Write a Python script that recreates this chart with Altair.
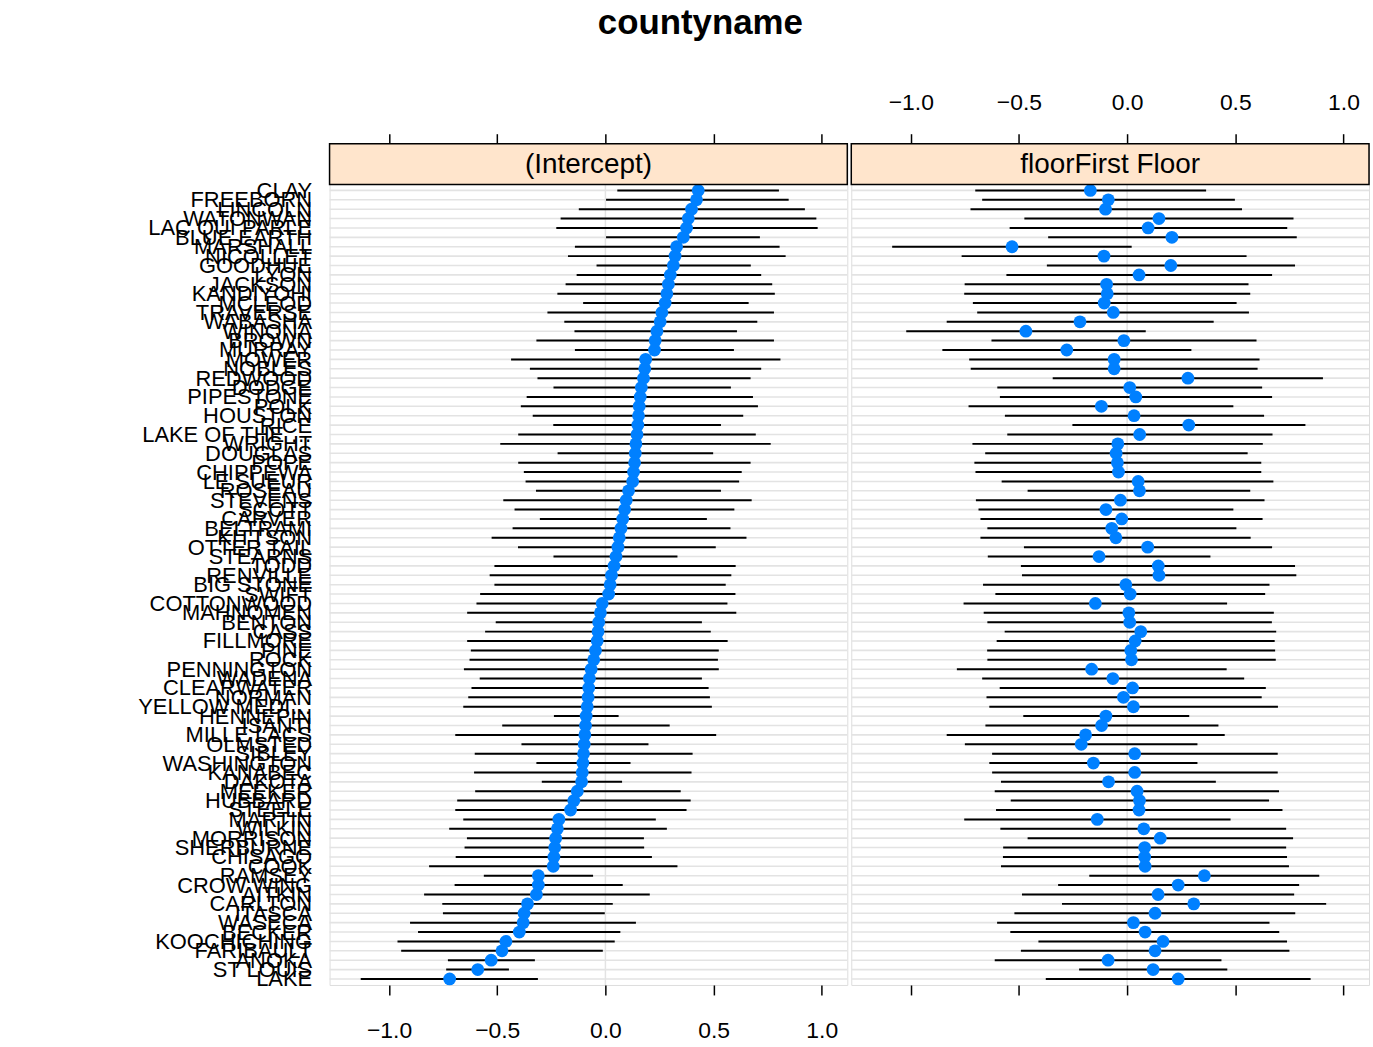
import altair as alt
import pandas as pd

# County order (top to bottom)
counties = [
    "CLAY", "FREEBORN", "LINCOLN", "WATONWAN", "LAC QUI PARLE", "BLUE EARTH", "MARSHALL", "NICOLLET", "GOODHUE", "LYON",
    "JACKSON", "KANDIYOHI", "MCLEOD", "TRAVERSE", "WABASHA", "WINONA", "BROWN", "MURRAY", "MOWER", "NOBLES",
    "REDWOOD", "DODGE", "PIPESTONE", "POLK", "HOUSTON", "RICE", "LAKE OF THE WOODS", "WRIGHT", "DOUGLAS", "POPE",
    "CHIPPEWA", "LE SUEUR", "ROSEAU", "STEVENS", "SCOTT", "CARVER", "BELTRAMI", "KITTSON", "OTTER TAIL", "STEARNS",
    "TODD", "RENVILLE", "BIG STONE", "SWIFT", "COTTONWOOD", "MAHNOMEN", "BENTON", "CASS", "FILLMORE", "PINE",
    "ROCK", "PENNINGTON", "WADENA", "CLEARWATER", "NORMAN", "YELLOW MEDICINE", "HENNEPIN", "ISANTI", "MILLE LACS", "OLMSTED",
    "SIBLEY", "WASHINGTON", "KANABEC", "DAKOTA", "MEEKER", "HUBBARD", "STEELE", "MARTIN", "WILKIN", "MORRISON",
    "SHERBURNE", "CHISAGO", "COOK", "RAMSEY", "CROW WING", "AITKIN", "CARLTON", "ITASCA", "WASECA", "BECKER",
    "KOOCHICHING", "FARIBAULT", "ANOKA", "ST LOUIS", "LAKE",
]

# (Intercept) panel
int_est = [
    0.429, 0.421, 0.398, 0.383, 0.375, 0.360, 0.329, 0.322, 0.314, 0.300,
    0.291, 0.284, 0.276, 0.261, 0.253, 0.238, 0.230, 0.227, 0.186, 0.182,
    0.176, 0.166, 0.161, 0.156, 0.153, 0.150, 0.146, 0.141, 0.138, 0.135,
    0.130, 0.126, 0.107, 0.096, 0.089, 0.080, 0.072, 0.064, 0.058, 0.049,
    0.040, 0.028, 0.022, 0.015, -0.015, -0.023, -0.031, -0.034, -0.038, -0.046,
    -0.054, -0.066, -0.074, -0.077, -0.080, -0.084, -0.089, -0.092, -0.095, -0.098,
    -0.101, -0.104, -0.107, -0.110, -0.130, -0.146, -0.161, -0.215, -0.222, -0.230,
    -0.234, -0.238, -0.241, -0.310, -0.310, -0.319, -0.360, -0.376, -0.380, -0.398,
    -0.460, -0.478, -0.528, -0.590, -0.720,
]
int_lo = [
    0.055, 0.003, -0.123, -0.207, -0.227, 0.003, -0.141, -0.173, -0.041, -0.133,
    -0.184, -0.222, -0.103, -0.268, -0.190, -0.143, -0.319, -0.141, -0.436, -0.349,
    -0.314, -0.240, -0.364, -0.391, -0.336, -0.241, -0.403, -0.486, -0.221, -0.403,
    -0.377, -0.369, -0.321, -0.472, -0.420, -0.303, -0.429, -0.526, -0.404, -0.240,
    -0.513, -0.535, -0.513, -0.579, -0.596, -0.639, -0.507, -0.556, -0.639, -0.622,
    -0.628, -0.654, -0.581, -0.619, -0.634, -0.657, -0.238, -0.477, -0.694, -0.388,
    -0.604, -0.319, -0.607, -0.294, -0.602, -0.685, -0.694, -0.657, -0.722, -0.640,
    -0.651, -0.692, -0.815, -0.562, -0.697, -0.838, -0.754, -0.751, -0.903, -0.866,
    -0.961, -0.944, -0.728, -0.736, -1.131,
]
int_hi = [
    0.802, 0.847, 0.922, 0.975, 0.981, 0.714, 0.805, 0.833, 0.672, 0.720,
    0.771, 0.783, 0.662, 0.779, 0.702, 0.608, 0.779, 0.594, 0.809, 0.720,
    0.671, 0.580, 0.682, 0.705, 0.637, 0.534, 0.695, 0.764, 0.498, 0.671,
    0.630, 0.618, 0.534, 0.676, 0.596, 0.469, 0.578, 0.652, 0.510, 0.333,
    0.602, 0.582, 0.556, 0.601, 0.564, 0.605, 0.446, 0.487, 0.565, 0.524,
    0.520, 0.524, 0.446, 0.477, 0.483, 0.492, 0.061, 0.297, 0.512, 0.199,
    0.403, 0.116, 0.398, 0.077, 0.348, 0.394, 0.375, 0.233, 0.284, 0.178,
    0.179, 0.215, 0.333, -0.057, 0.080, 0.205, 0.034, -0.003, 0.141, 0.069,
    0.043, -0.012, -0.326, -0.446, -0.312,
]

# floorFirst Floor panel
slope_est = [
    -0.170, -0.087, -0.100, 0.147, 0.097, 0.207, -0.532, -0.107, 0.202, 0.055,
    -0.095, -0.092, -0.106, -0.064, -0.218, -0.468, -0.015, -0.279, -0.060, -0.060,
    0.281, 0.012, 0.040, -0.119, 0.032, 0.285, 0.058, -0.043, -0.051, -0.045,
    -0.040, 0.051, 0.057, -0.031, -0.098, -0.025, -0.071, -0.052, 0.095, -0.130,
    0.144, 0.147, -0.006, 0.014, -0.147, 0.008, 0.012, 0.063, 0.037, 0.017,
    0.020, -0.164, -0.066, 0.025, -0.017, 0.029, -0.098, -0.118, -0.192, -0.212,
    0.035, -0.156, 0.035, -0.086, 0.046, 0.057, 0.055, -0.138, 0.077, 0.153,
    0.081, 0.081, 0.083, 0.357, 0.236, 0.143, 0.308, 0.129, 0.029, 0.083,
    0.166, 0.129, -0.088, 0.120, 0.236,
]
slope_lo = [
    -0.702, -0.670, -0.724, -0.475, -0.543, -0.365, -1.086, -0.765, -0.371, -0.558,
    -0.751, -0.753, -0.713, -0.693, -0.834, -1.021, -0.627, -0.854, -0.730, -0.723,
    -0.344, -0.600, -0.588, -0.733, -0.565, -0.253, -0.554, -0.715, -0.656, -0.706,
    -0.701, -0.580, -0.460, -0.699, -0.687, -0.678, -0.646, -0.678, -0.477, -0.644,
    -0.491, -0.486, -0.666, -0.609, -0.756, -0.663, -0.646, -0.566, -0.603, -0.647,
    -0.646, -0.787, -0.670, -0.589, -0.650, -0.637, -0.480, -0.655, -0.834, -0.750,
    -0.624, -0.637, -0.624, -0.583, -0.612, -0.538, -0.606, -0.753, -0.586, -0.460,
    -0.573, -0.574, -0.583, -0.175, -0.319, -0.486, -0.301, -0.521, -0.601, -0.540,
    -0.410, -0.491, -0.612, -0.222, -0.376,
]
slope_hi = [
    0.365, 0.498, 0.531, 0.769, 0.740, 0.784, 0.021, 0.552, 0.776, 0.670,
    0.561, 0.569, 0.506, 0.563, 0.400, 0.086, 0.598, 0.297, 0.612, 0.603,
    0.905, 0.624, 0.670, 0.491, 0.633, 0.824, 0.672, 0.627, 0.557, 0.620,
    0.620, 0.676, 0.569, 0.635, 0.491, 0.626, 0.505, 0.571, 0.670, 0.385,
    0.776, 0.782, 0.658, 0.638, 0.462, 0.678, 0.669, 0.689, 0.682, 0.684,
    0.687, 0.460, 0.541, 0.641, 0.622, 0.697, 0.287, 0.422, 0.451, 0.325,
    0.696, 0.325, 0.696, 0.410, 0.702, 0.656, 0.718, 0.478, 0.735, 0.767,
    0.735, 0.739, 0.748, 0.888, 0.795, 0.772, 0.920, 0.777, 0.658, 0.703,
    0.739, 0.750, 0.436, 0.463, 0.848,
]

tick_values = [-1.0, -0.5, 0.0, 0.5, 1.0]
panel_names = ["(Intercept)", "floorFirst Floor"]

n = len(counties)
rows = list(range(1, n + 1))

W = 520
H = 845
STRIP = 41
X_DOMAIN = [-1.275, 1.118]
Y_DOMAIN = [85.64, -3.98]
FONT = "Liberation Sans"

label_expr = "[" + ",".join("'%s'" % c for c in counties) + "][datum.value - 1]"


def make_panel(est, lo, hi, strip_text, show_y, top_labels):
    df = pd.DataFrame({"county": counties, "row": rows, "est": est, "lo": lo, "hi": hi})
    xscale = alt.Scale(domain=X_DOMAIN, nice=False, zero=False)
    yscale = alt.Scale(domain=Y_DOMAIN, nice=False, zero=False)
    if show_y:
        yaxis = alt.Axis(values=rows, labelExpr=label_expr, labelOverlap=False, ticks=False,
                         domain=False, grid=False, labelPadding=18, labelFontSize=22,
                         minExtent=318, title=None, labelColor="black", labelFont=FONT,
                         labelBound=False, labelFlush=False)
    else:
        yaxis = None
    bottom_axis = alt.Axis(orient="bottom", values=tick_values, format=".1f", labels=not top_labels,
                           grid=False, domain=False, title=None, tickSize=10, tickWidth=1.5,
                           tickColor="black", labelFontSize=23, labelColor="black",
                           labelPadding=25, labelFlush=False, labelFont=FONT)
    top_axis = alt.Axis(orient="top", values=tick_values, format=".1f", labels=top_labels,
                        grid=False, domain=False, title=None, tickSize=10, tickWidth=1.5,
                        tickColor="black", labelFontSize=23, labelColor="black",
                        labelPadding=19, labelFlush=False, labelFont=FONT)

    base = alt.Chart(df)
    grid = base.mark_rule(color="#e3e3e3", strokeWidth=1.6).encode(
        x=alt.value(0), x2=alt.value(W),
        y=alt.Y("row:Q", scale=yscale, axis=yaxis),
    )
    zero = alt.Chart(pd.DataFrame({"z": [0.0]})).mark_rule(color="#e3e3e3", strokeWidth=1.5).encode(
        x=alt.X("z:Q", scale=xscale, axis=top_axis),
        y=alt.value(STRIP), y2=alt.value(H),
    )
    ci = base.mark_rule(color="black", strokeWidth=2).encode(
        x=alt.X("lo:Q", scale=xscale, axis=bottom_axis),
        x2="hi:Q",
        y=alt.Y("row:Q", scale=yscale, axis=yaxis),
    )
    pts = base.mark_circle(color="#0080ff", opacity=1, size=165).encode(
        x=alt.X("est:Q", scale=xscale, axis=None),
        y=alt.Y("row:Q", scale=yscale, axis=yaxis),
    )
    sdf = pd.DataFrame({"label": [strip_text]})
    strip = alt.Chart(sdf).mark_rect(fill="#ffe5cc", stroke="black", strokeWidth=1.5).encode(
        x=alt.value(0), x2=alt.value(W), y=alt.value(0), y2=alt.value(STRIP)
    )
    strip_txt = alt.Chart(sdf).mark_text(fontSize=28, font=FONT, color="black").encode(
        x=alt.value(W / 2), y=alt.value(STRIP / 2 + 1), text="label:N"
    )
    return alt.layer(grid, zero, ci, pts, strip, strip_txt).resolve_axis(x="independent").properties(
        width=W, height=H
    )


left = make_panel(int_est, int_lo, int_hi, panel_names[0], True, False)
right = make_panel(slope_est, slope_lo, slope_hi, panel_names[1], False, True)

chart = alt.hconcat(left, right, spacing=0).properties(
    title=alt.TitleParams("countyname", fontSize=35, font=FONT, fontWeight="bold",
                          anchor="middle", offset=51, dx=9, color="black"),
    padding={"left": 12, "top": 3, "right": 2, "bottom": 0},
    background="white",
).configure_view(stroke="black", strokeWidth=1.5).configure(font=FONT)

chart.save("out.html", embed_options={"renderer": "svg", "actions": False})
